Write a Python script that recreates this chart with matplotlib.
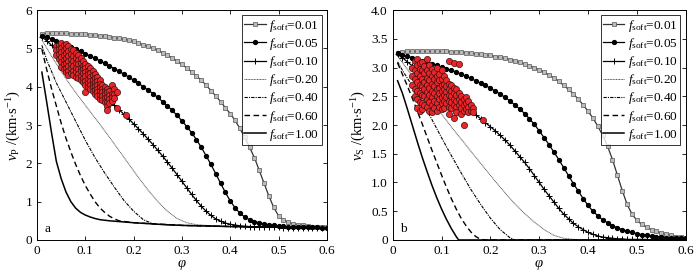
import numpy as np
import matplotlib
matplotlib.use("Agg")
import matplotlib.pyplot as plt

plt.rcParams['font.family'] = ['Liberation Serif', 'DejaVu Serif']
plt.rcParams['mathtext.fontset'] = 'custom'
plt.rcParams['mathtext.rm'] = 'Liberation Serif'
plt.rcParams['mathtext.it'] = 'Liberation Serif:italic'

# ---------------- data ----------------
phi_grid = [round(0.01 * i, 2) for i in range(1, 61)]
f_labels = ['0.01', '0.05', '0.10', '0.20', '0.40', '0.60', '1.00']

vp_f001 = [5.38,5.39,5.39,5.39,5.39,5.39,5.38,5.38,5.37,5.37,
           5.35,5.34,5.33,5.32,5.30,5.28,5.26,5.24,5.21,5.18,
           5.14,5.10,5.05,5.00,4.95,4.89,4.82,4.75,4.67,4.58,
           4.49,4.39,4.28,4.17,4.04,3.90,3.76,3.61,3.45,3.30,
           3.12,2.91,2.68,2.42,2.15,1.82,1.48,1.15,0.85,0.63,
           0.52,0.46,0.42,0.40,0.38,0.36,0.35,0.34,0.33,0.33]
vp_f005 = [5.33,5.29,5.25,5.20,5.15,5.10,5.04,4.98,4.92,4.86,
           4.80,4.74,4.68,4.61,4.54,4.47,4.40,4.33,4.25,4.17,
           4.09,4.00,3.91,3.82,3.72,3.61,3.50,3.38,3.25,3.11,
           2.96,2.80,2.62,2.42,2.20,1.97,1.73,1.48,1.24,1.02,
           0.84,0.70,0.60,0.53,0.48,0.45,0.42,0.40,0.38,0.37,
           0.36,0.35,0.35,0.34,0.34,0.33,0.33,0.33,0.32,0.32]
vp_f010 = [5.30,5.20,5.08,4.96,4.84,4.72,4.60,4.48,4.36,4.24,
           4.12,4.00,3.88,3.76,3.64,3.52,3.40,3.28,3.16,3.03,
           2.90,2.77,2.63,2.49,2.34,2.19,2.03,1.87,1.70,1.53,
           1.36,1.19,1.03,0.88,0.75,0.64,0.55,0.49,0.44,0.41,
           0.39,0.37,0.36,0.35,0.35,0.34,0.34,0.33,0.33,0.33,
           0.32,0.32,0.32,0.32,0.32,0.31,0.31,0.31,0.31,0.31]
vp_f020_phi = [0.01,0.03,0.05,0.07,0.09,0.11,0.13,0.15,0.17,0.19,0.21,0.23,0.25,0.27,0.29,0.31,0.33,0.35,0.40,0.45,0.50,0.55,0.60]
vp_f020 = [5.22,4.80,4.40,4.02,3.68,3.35,3.02,2.68,2.33,1.98,1.63,1.30,1.00,0.75,0.56,0.45,0.40,0.38,0.35,0.34,0.33,0.32,0.32]
vp_f040_phi = [0.01,0.02,0.03,0.04,0.05,0.06,0.08,0.10,0.12,0.14,0.16,0.18,0.20,0.22,0.24,0.26,0.30,0.40,0.50,0.60]
vp_f040 = [5.08,4.70,4.40,4.10,3.85,3.60,3.10,2.60,2.15,1.75,1.38,1.03,0.75,0.53,0.42,0.40,0.38,0.35,0.33,0.32]
vp_f060_phi = [0.01,0.02,0.03,0.04,0.05,0.06,0.07,0.08,0.09,0.10,0.11,0.12,0.13,0.14,0.15,0.16,0.17,0.20,0.30,0.40,0.50,0.60]
vp_f060 = [4.98,4.45,3.95,3.50,3.05,2.65,2.30,1.97,1.68,1.42,1.20,1.00,0.84,0.72,0.62,0.55,0.50,0.45,0.38,0.35,0.33,0.32]
vp_f100_phi = [0.01,0.02,0.03,0.04,0.05,0.06,0.07,0.08,0.09,0.10,0.11,0.12,0.13,0.15,0.20,0.25,0.30,0.40,0.50,0.60]
vp_f100 = [4.38,3.60,2.80,2.05,1.60,1.25,1.00,0.83,0.72,0.65,0.60,0.56,0.53,0.50,0.45,0.41,0.38,0.35,0.33,0.32]

vs_f001 = [3.25,3.27,3.28,3.28,3.28,3.28,3.28,3.28,3.28,3.28,
           3.28,3.27,3.27,3.27,3.26,3.25,3.24,3.23,3.22,3.21,
           3.19,3.18,3.16,3.14,3.12,3.09,3.06,3.03,3.00,2.96,
           2.92,2.87,2.82,2.76,2.69,2.62,2.54,2.45,2.35,2.24,
           2.12,1.98,1.82,1.63,1.40,1.13,0.86,0.62,0.45,0.34,
           0.27,0.22,0.18,0.15,0.12,0.10,0.08,0.06,0.05,0.04]
vs_f005 = [3.25,3.22,3.20,3.17,3.14,3.12,3.09,3.07,3.04,3.01,
           2.98,2.95,2.92,2.89,2.85,2.81,2.77,2.73,2.69,2.64,
           2.59,2.54,2.48,2.42,2.35,2.28,2.20,2.11,2.01,1.90,
           1.78,1.66,1.53,1.40,1.26,1.12,0.98,0.85,0.72,0.60,
           0.50,0.42,0.35,0.30,0.25,0.21,0.18,0.15,0.13,0.11,
           0.09,0.08,0.07,0.06,0.05,0.04,0.04,0.03,0.03,0.03]
vs_f010 = [3.23,3.17,3.10,3.03,2.96,2.90,2.83,2.77,2.70,2.63,
           2.57,2.50,2.44,2.37,2.31,2.24,2.18,2.11,2.04,1.97,
           1.90,1.82,1.74,1.65,1.55,1.45,1.35,1.24,1.12,1.00,
           0.88,0.77,0.66,0.55,0.45,0.37,0.29,0.23,0.18,0.13,
           0.10,0.07,0.05,0.04,0.03,0.02,0.02,0.01,0.01,0.01,
           0.01,0.01,0.00,0.00,0.00,0.00,0.00,0.00,0.00,0.00]
vs_f020_phi = [0.01,0.03,0.05,0.07,0.09,0.11,0.13,0.15,0.17,0.19,0.21,0.23,0.25,0.27,0.29,0.31,0.33,0.35,0.37,0.40,0.60]
vs_f020 = [3.20,2.97,2.74,2.52,2.30,2.08,1.86,1.65,1.44,1.23,1.02,0.82,0.63,0.46,0.31,0.18,0.08,0.03,0.01,0.00,0.00]
vs_f040_phi = [0.01,0.02,0.04,0.06,0.08,0.10,0.12,0.14,0.16,0.18,0.20,0.22,0.24,0.25,0.60]
vs_f040 = [3.10,2.95,2.68,2.40,2.10,1.78,1.47,1.17,0.88,0.62,0.38,0.18,0.04,0.00,0.00]
vs_f060_phi = [0.01,0.02,0.03,0.04,0.05,0.06,0.07,0.08,0.09,0.10,0.11,0.12,0.13,0.14,0.15,0.16,0.17,0.18,0.19,0.60]
vs_f060 = [3.08,2.88,2.68,2.47,2.25,2.03,1.80,1.57,1.35,1.13,0.92,0.72,0.54,0.38,0.25,0.14,0.06,0.01,0.00,0.00]
vs_f100_phi = [0.01,0.02,0.03,0.04,0.05,0.06,0.07,0.08,0.09,0.10,0.11,0.12,0.13,0.135,0.60]
vs_f100 = [2.77,2.55,2.28,2.00,1.72,1.45,1.20,0.96,0.74,0.54,0.36,0.20,0.06,0.00,0.00]

# measured samples (phi, vp)
vp_pts_phi = [0.040,0.040,0.040,
              0.045,0.045,0.045,0.045,
              0.050,0.050,0.050,0.050,0.050,0.050,
              0.055,0.055,0.055,0.055,0.055,0.055,
              0.060,0.060,0.060,0.060,0.060,0.060,0.060,
              0.065,0.065,0.065,0.065,0.065,0.065,0.065,
              0.070,0.070,0.070,0.070,0.070,0.070,
              0.075,0.075,0.075,0.075,0.075,0.075,
              0.080,0.080,0.080,0.080,0.080,0.080,
              0.085,0.085,0.085,0.085,0.085,0.085,
              0.090,0.090,0.090,0.090,0.090,0.090,
              0.095,0.095,0.095,0.095,0.095,0.095,
              0.100,0.100,0.100,0.100,0.100,0.100,0.100,
              0.105,0.105,0.105,0.105,0.105,0.105,
              0.110,0.110,0.110,0.110,0.110,0.110,
              0.115,0.115,0.115,0.115,0.115,0.115,
              0.120,0.120,0.120,0.120,0.120,0.120,
              0.125,0.125,0.125,0.125,0.125,0.125,
              0.130,0.130,0.130,0.130,0.130,0.130,
              0.135,0.135,0.135,0.135,0.135,
              0.140,0.140,0.140,0.140,0.140,
              0.145,0.145,0.145,0.145,0.145,0.145,
              0.150,0.150,0.150,0.150,
              0.155,0.155,0.155,0.155,
              0.160,0.160,0.160,
              0.165,0.165,
              0.185]
vp_pts = [5.05,4.95,4.82,
          5.10,4.98,4.85,4.72,
          5.15,5.02,4.90,4.78,4.65,4.52,
          5.08,4.95,4.82,4.70,4.58,4.45,
          5.12,5.00,4.88,4.75,4.62,4.50,4.38,
          5.05,4.92,4.80,4.68,4.55,4.42,4.30,
          4.98,4.85,4.72,4.60,4.48,4.35,
          4.95,4.80,4.68,4.55,4.42,4.30,
          4.88,4.75,4.62,4.50,4.38,4.25,
          4.82,4.70,4.58,4.45,4.32,4.22,
          4.75,4.62,4.50,4.40,4.28,4.18,
          4.68,4.55,4.45,4.35,4.22,4.12,
          4.60,4.50,4.38,4.28,4.15,4.05,3.85,
          4.55,4.42,4.32,4.20,4.10,4.00,
          4.48,4.35,4.25,4.15,4.05,3.95,
          4.40,4.30,4.18,4.08,3.98,3.88,
          4.32,4.22,4.12,4.02,3.92,3.82,
          4.25,4.15,4.05,3.95,3.85,3.75,
          4.18,4.08,3.98,3.88,3.78,3.68,
          4.05,3.95,3.85,3.75,3.65,
          4.00,3.90,3.80,3.70,3.60,
          3.95,3.85,3.72,3.60,3.50,3.40,
          3.88,3.78,3.68,3.58,
          4.05,3.82,3.72,3.62,
          3.95,3.80,3.70,
          3.85,3.45,
          3.25]

vs_pts_phi = [0.040,0.040,0.040,
              0.045,0.045,0.045,0.045,0.045,
              0.050,0.050,0.050,0.050,0.050,0.050,0.050,
              0.055,0.055,0.055,0.055,0.055,0.055,0.055,
              0.060,0.060,0.060,0.060,0.060,0.060,0.060,
              0.065,0.065,0.065,0.065,0.065,0.065,
              0.070,0.070,0.070,0.070,0.070,0.070,0.070,
              0.075,0.075,0.075,0.075,0.075,0.075,0.075,
              0.080,0.080,0.080,0.080,0.080,0.080,0.080,
              0.085,0.085,0.085,0.085,0.085,0.085,
              0.090,0.090,0.090,0.090,0.090,0.090,0.090,
              0.095,0.095,0.095,0.095,0.095,0.095,
              0.100,0.100,0.100,0.100,0.100,0.100,0.100,
              0.105,0.105,0.105,0.105,0.105,0.105,
              0.110,0.110,0.110,0.110,0.110,
              0.115,0.115,0.115,0.115,0.115,0.115,0.115,
              0.120,0.120,0.120,0.120,0.120,
              0.125,0.125,0.125,0.125,0.125,0.125,
              0.130,0.130,0.130,0.130,0.130,
              0.135,0.135,0.135,0.135,
              0.140,0.140,0.140,0.140,
              0.145,0.145,0.145,0.145,
              0.150,0.150,0.150,
              0.155,0.155,0.155,
              0.160,0.160,
              0.165,0.165,
              0.185]
vs_pts = [3.00,2.85,2.70,
          3.12,2.95,2.80,2.62,2.50,
          3.15,3.05,2.90,2.75,2.60,2.45,2.30,
          3.08,2.98,2.85,2.70,2.55,2.40,2.25,
          3.10,2.95,2.80,2.68,2.52,2.38,2.28,
          3.02,2.90,2.75,2.62,2.50,2.35,
          3.15,2.95,2.82,2.70,2.58,2.45,2.32,
          3.05,2.90,2.78,2.65,2.52,2.40,2.25,
          2.98,2.85,2.72,2.60,2.48,2.35,2.22,
          2.92,2.80,2.68,2.55,2.42,2.30,
          3.00,2.85,2.75,2.62,2.50,2.38,2.25,
          2.88,2.78,2.65,2.55,2.45,2.32,
          2.95,2.80,2.70,2.60,2.48,2.38,2.28,
          2.85,2.72,2.62,2.52,2.42,2.30,
          2.78,2.68,2.58,2.48,2.38,
          3.12,2.72,2.62,2.52,2.42,2.32,2.20,
          2.70,2.60,2.50,2.40,2.30,
          3.08,2.65,2.55,2.45,2.35,2.12,
          2.62,2.52,2.42,2.32,2.22,
          3.07,2.55,2.45,2.35,
          2.50,2.40,2.30,2.20,
          2.45,2.35,2.25,2.00,
          2.48,2.38,2.28,
          2.42,2.32,2.22,
          2.35,2.25,
          2.30,2.22,
          2.08]

# ---------------- plotting ----------------
fig = plt.figure(figsize=(7.0, 2.8), dpi=100)
ax1 = fig.add_axes([0.0529, 0.143, 0.414, 0.821])
ax2 = fig.add_axes([0.561, 0.143, 0.4186, 0.821])


def lab(s):
    return r'$f_{\mathrm{soft}}$=' + s


def draw(ax, f001, f005, f010, p020, f020, p040, f040, p060, f060, p100, f100,
         sphi, sval):
    ax.plot(phi_grid, f001, color='#333333', lw=0.9, marker='s', ms=2.6,
            mfc='#bbbbbb', mec='#555555', mew=0.5, label=lab(f_labels[0]), zorder=3)
    ax.plot(phi_grid, f005, color='black', lw=0.9, marker='o', ms=2.8,
            mfc='black', mec='black', label=lab(f_labels[1]), zorder=3)
    ax.plot(phi_grid, f010, color='black', lw=0.9, marker='+', ms=4,
            mew=0.7, label=lab(f_labels[2]), zorder=3)
    ax.plot(p020, f020, color='#555555', lw=0.7, ls=(0, (1, 0.6)), label=lab(f_labels[3]))
    ax.plot(p040, f040, color='black', lw=0.8, ls=(0, (3, 1, 1, 1)), label=lab(f_labels[4]))
    ax.plot(p060, f060, color='black', lw=1.0, ls=(0, (4, 2.5)), label=lab(f_labels[5]))
    ax.plot(p100, f100, color='black', lw=1.1, ls='-', label=lab(f_labels[6]))
    ax.scatter(sphi, sval, s=20, c='#e8262a', edgecolors='#3a1010', linewidths=0.5, zorder=4)
    ax.set_xlim(0, 0.6)
    ax.set_xticks([0, 0.1, 0.2, 0.3, 0.4, 0.5, 0.6])
    ax.set_xticklabels(['0', '0.1', '0.2', '0.3', '0.4', '0.5', '0.6'])
    ax.tick_params(direction='in', top=True, right=True, labelsize=9.5, length=3, width=0.6)
    for s in ax.spines.values():
        s.set_linewidth(0.7)
    ax.set_xlabel(r'$\varphi$', fontsize=10.5, labelpad=1)
    leg = ax.legend(loc='upper right', fontsize=9.5, frameon=True, fancybox=False,
                    edgecolor='black', borderaxespad=0.4, handlelength=1.6,
                    handletextpad=0.25, labelspacing=0.16, borderpad=0.2)
    leg.get_frame().set_linewidth(0.7)


draw(ax1, vp_f001, vp_f005, vp_f010, vp_f020_phi, vp_f020, vp_f040_phi, vp_f040,
     vp_f060_phi, vp_f060, vp_f100_phi, vp_f100, vp_pts_phi, vp_pts)
ax1.set_ylim(0, 6)
ax1.set_yticks([0, 1, 2, 3, 4, 5, 6])
ax1.set_ylabel(r'$v_{\mathrm{P}}$ /(km$\cdot$s$^{-1}$)', fontsize=10.5, labelpad=2)
ax1.text(0.025, 0.035, 'a', transform=ax1.transAxes, fontsize=9.5)

draw(ax2, vs_f001, vs_f005, vs_f010, vs_f020_phi, vs_f020, vs_f040_phi, vs_f040,
     vs_f060_phi, vs_f060, vs_f100_phi, vs_f100, vs_pts_phi, vs_pts)
ax2.set_ylim(0, 4)
ax2.set_yticks([0, 0.5, 1, 1.5, 2, 2.5, 3, 3.5, 4])
ax2.set_yticklabels(['0', '0.5', '1.0', '1.5', '2.0', '2.5', '3.0', '3.5', '4.0'])
ax2.set_ylabel(r'$v_{\mathrm{S}}$ /(km$\cdot$s$^{-1}$)', fontsize=10.5, labelpad=2)
ax2.text(0.025, 0.035, 'b', transform=ax2.transAxes, fontsize=9.5)

fig.savefig('out.png', dpi=100)
